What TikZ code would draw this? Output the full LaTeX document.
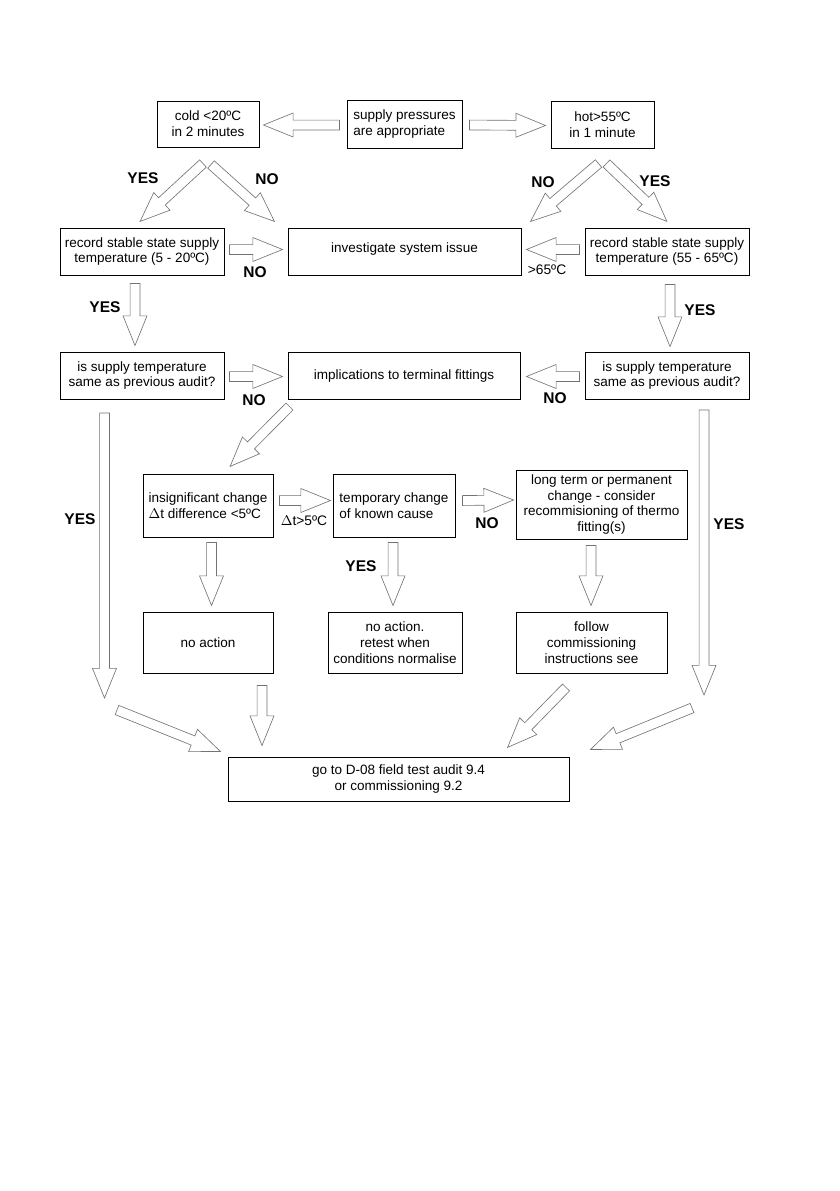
\documentclass[tikz,border=0pt]{standalone}
\usepackage{fontspec}
\setmainfont{Liberation Sans}
\usetikzlibrary{calc}
\tikzset{
  box/.style={draw=black, line width=0.7pt, inner sep=0pt, align=center,
    font=\fontsize{9.6}{11.3}\selectfont},
  lab/.style={font=\bfseries\fontsize{11}{13}\selectfont, inner sep=0pt},
  note/.style={font=\fontsize{9.8}{11.3}\selectfont, inner sep=0pt},
  barr/.style={draw=black!55, line width=0.45pt, fill=white, line join=miter}
}
\newcommand\bx[7][]{\node[box, #1, minimum width={(#5-#3)*0.7095pt}, minimum height={(#6-#4)*0.7095pt}] (#2) at ({(#3+#5)/2},{(#4+#6)/2}) {#7};}
\newcommand\barrow[2]{\draw[barr] let \p1=(#1), \p2=(#2),
  \n1={atan2(\y2-\y1,\x2-\x1)}, \n2={veclen(\x2-\x1,\y2-\y1)} in
  [shift={(\p1)}, rotate=\n1]
  (0pt,-3.5pt) -- ({\n2-21pt},-3.5pt) -- ({\n2-21pt},-8.5pt) -- (\n2,0pt)
  -- ({\n2-21pt},8.5pt) -- ({\n2-21pt},3.5pt) -- (0pt,3.5pt) -- cycle;}
\begin{document}
\begin{tikzpicture}[x=0.7095pt, y=-0.7095pt]
\useasboundingbox (0,0) rectangle (839,1191);
\fill[white] (0,0) rectangle (839,1191);
% boxes
\bx{cold}{157}{101}{259}{147}{cold <20ºC\\in 2 minutes}
\bx[align=left]{supply}{347}{100}{462}{148}{supply pressures\\are appropriate}
\bx{hot}{551}{101}{654}{148}{hot>55ºC\\in 1 minute}
\bx{recL}{60}{228}{224}{275}{record stable state supply\\temperature (5 - 20ºC)}
\bx[text depth=6pt]{inv}{288}{228}{521}{275}{investigate system issue}
\bx{recR}{585}{228}{749}{275}{record stable state supply\\temperature (55 - 65ºC)}
\bx{isL}{60}{352}{224}{399}{is supply temperature\\same as previous audit?}
\bx{impl}{288}{352}{520}{399}{implications to terminal fittings}
\bx{isR}{585}{352}{749}{399}{is supply temperature\\same as previous audit?}
\bx[align=left]{insig}{143}{474}{273}{537}{insignificant change\\$\Delta$t difference <5ºC}
\bx[align=left]{temp}{333}{474}{455}{537}{temporary change\\of known cause}
\bx{long}{516}{470}{687}{539}{long term or permanent\\change - consider\\recommisioning of thermo\\fitting(s)}
\bx{noact}{143}{612}{273}{673}{no action}
\bx{retest}{328}{612}{462}{673}{no action.\\retest when\\conditions normalise}
\bx{follow}{516}{612}{667}{673}{follow\\commissioning\\instructions see}
\bx{goto}{228}{757}{569}{801}{go to D-08 field test audit 9.4\\or commissioning 9.2}
% free-end coordinates
\coordinate (lyT) at (104.5,413);
\coordinate (lyB) at (104.5,698);
\coordinate (ryT) at (704,410);
\coordinate (ryB) at (704,695);
\coordinate (ldS) at (117,710);
\coordinate (rdS) at (692,708);
% block arrows
\barrow{$(supply.west)+(-7,1)$}{$(cold.east)+(4,1)$}
\barrow{$(supply.east)+(7,1)$}{$(hot.west)+(-5,1)$}
\barrow{$(cold.south)+(-5,16)$}{$(recL.north)+(-2,-6)$}
\barrow{$(cold.south)+(3,17)$}{$(inv.north west)+(-13,-6)$}
\barrow{$(hot.south)+(-4,15)$}{$(inv.north east)+(9,-6)$}
\barrow{$(hot.south)+(4,15)$}{$(recR.north)+(0,-6)$}
\barrow{$(recL.east)+(5,-2)$}{$(inv.west)+(-5,-2)$}
\barrow{$(recR.west)+(-5,-2)$}{$(inv.east)+(5,-2)$}
\barrow{$(recL.south)+(-7,8)$}{$(isL.north)+(-7,-6)$}
\barrow{$(recR.south)+(3,9)$}{$(isR.north)+(3,-5)$}
\barrow{$(isL.east)+(5,1)$}{$(impl.west)+(-5,1)$}
\barrow{$(isR.west)+(-5,1)$}{$(impl.east)+(6,1)$}
\barrow{$(impl.south west)+(2,7)$}{$(insig.north)+(22,-7)$}
\barrow{lyT}{lyB}
\barrow{ryT}{ryB}
\barrow{$(insig.east)+(6,-5)$}{$(temp.west)+(-2,-5)$}
\barrow{$(temp.east)+(7,-5)$}{$(long.west)+(-2,-4.5)$}
\barrow{$(insig.south)+(3.5,5)$}{$(noact.north)+(3.5,-6)$}
\barrow{$(temp.south)+(-1,5)$}{$(retest.north)+(-2,-6)$}
\barrow{$(long.south)+(-10.5,6)$}{$(follow.north)+(-0.5,-6)$}
\barrow{$(noact.south)+(54,12)$}{$(goto.north)+(-136.5,-11)$}
\barrow{ldS}{$(goto.north west)+(-7,-5)$}
\barrow{$(follow.south)+(-25.5,14)$}{$(goto.north east)+(-62,-9)$}
\barrow{rdS}{$(goto.north east)+(21,-7)$}
% labels
\node[lab] (l1) at (143,178) {YES};
\node[lab] (l2) at (267,179) {NO};
\node[lab] (l3) at (543,182) {NO};
\node[lab] (l4) at (655,181) {YES};
\node[lab] (l5) at (255,272) {NO};
\node[note] (l6) at (547,270) {>65ºC};
\node[lab] (l7) at (105,307) {YES};
\node[lab] (l8) at (700,310) {YES};
\node[lab] (l9) at (254,400) {NO};
\node[lab] (l10) at (555,398) {NO};
\node[lab] (l11) at (80,519) {YES};
\node[lab] (l12) at (729,524) {YES};
\node[note] (l13) at (304,521) {$\Delta$t>5ºC};
\node[lab] (l14) at (487,523) {NO};
\node[lab] (l15) at (361,566) {YES};
\end{tikzpicture}
\end{document}
